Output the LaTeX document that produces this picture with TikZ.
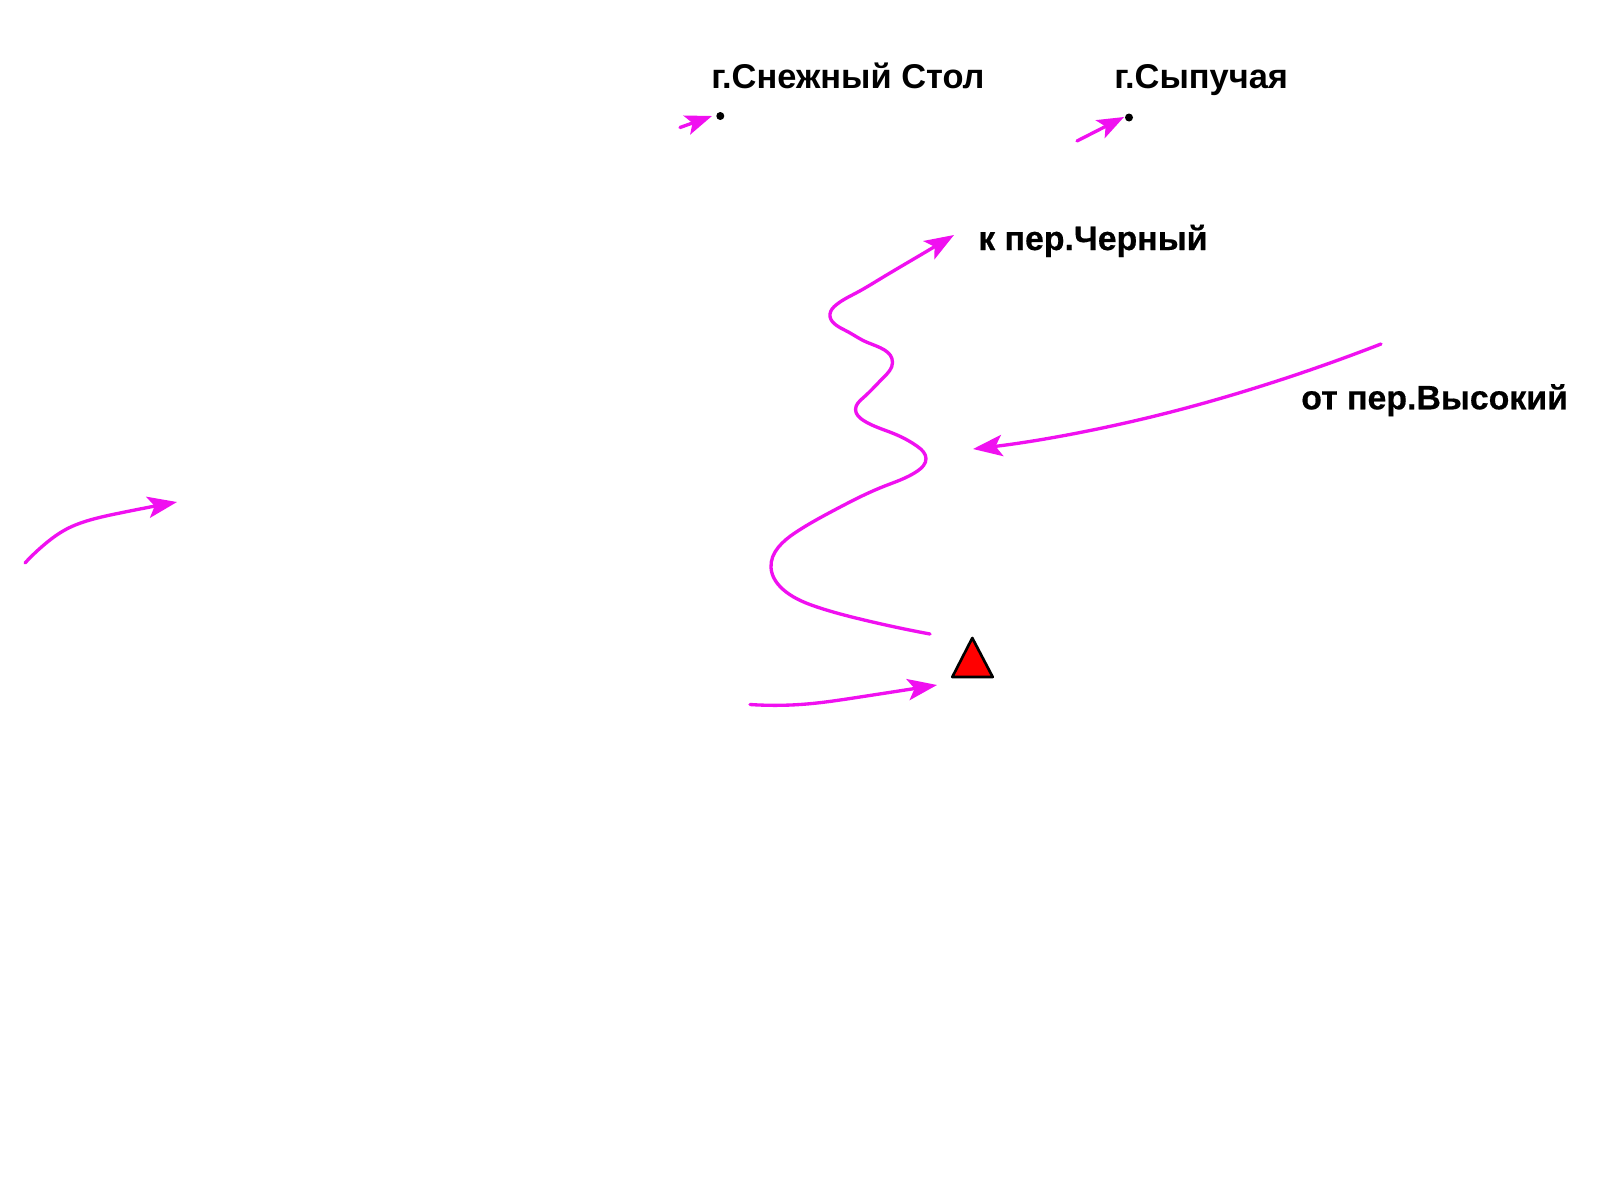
\documentclass[tikz,border=0pt]{standalone}
\usepackage{fontspec}
\setmainfont{Liberation Sans}
\newfontfamily\heavyfont[FakeBold=0.5]{Liberation Sans Bold}
\usetikzlibrary{arrows.meta,hobby}
\definecolor{route}{HTML}{F010F0}
\tikzset{
  x=0.75pt,y=-0.75pt,
  label text/.style={anchor=base west,inner sep=0pt,font=\bfseries\fontsize{25.8}{30}\selectfont,text=black},
  heavy text/.style={anchor=base west,inner sep=0pt,font=\heavyfont\fontsize{25.4}{30}\selectfont,text=black},
  route line/.style={draw=route,line width=2.5pt,line cap=round,line join=round},
  route arrow/.style={route line,use Hobby shortcut,-{Stealth[length=22pt,width=16pt,inset=5pt,fill=route]}},
  short arrow/.style={route line,-{Stealth[length=20pt,width=15pt,inset=4.5pt,fill=route]}},
  peak dot/.style={circle,fill=black,inner sep=0pt,minimum size=6pt}
}
\begin{document}
\begin{tikzpicture}
\useasboundingbox (0,0) rectangle (1600,1200);
\fill[white] (0,0) rectangle (1600,1200);
\node[label text] (snezhny) at (711,88.3) {г.Снежный Стол};
\node[label text] (sypuchaya) at (1114,88.3) {г.Сыпучая};
\node[heavy text] (chernyi) at (978,250) {к пер.Черный};
\node[heavy text] (vysokii) at (1301,409.3) {от пер.Высокий};
\node[peak dot] (dotA) at (720.3,116) {};
\node[peak dot] (dotB) at (1129,117.5) {};
\coordinate (a1s) at (680,127.5);
\coordinate (a1e) at (712,116);
\coordinate (a2s) at (1077,141);
\coordinate (a2e) at (1124,117);
\draw[short arrow] (a1s) -- (a1e);
\draw[short arrow] (a2s) -- (a2e);
\coordinate (tA) at (972.3,638);
\coordinate (tB) at (952.3,677);
\coordinate (tC) at (992.7,677);
\draw[fill=red,draw=black,line width=2pt,line join=round] (tA) -- (tB) -- (tC) -- cycle;
\draw[route arrow] (930,634) .. (862,619.5) .. (818.5,607.5) .. (785.5,591.5) .. (771,567.5) .. (795.5,532.5) .. (835.5,509.5) .. (883.5,486.5) .. (917.5,471) .. (926,458.5) .. (917.5,446.5) .. (893.5,433.5) .. (863.5,420.5) .. (855.5,409.5) .. (863.5,397.5) .. (883.5,377.5) .. (892.5,362.5) .. (867.5,342.5) .. (845.5,330.5) .. (830,314) .. (836,305) .. (857,292.5) .. (880,279) .. (920,255.3) .. (954,235);
\draw[route arrow] (1381,344) .. (1247,390.5) .. (1165,413.5) .. (973,449);
\draw[route arrow] (750,704.5) .. (806.7,704) .. (856.7,697.5) .. (937,685);
\draw[route arrow] (25,563) .. (45,544) .. (66.7,529) .. (90,520) .. (120,513) .. (177,502);
\end{tikzpicture}
\end{document}
